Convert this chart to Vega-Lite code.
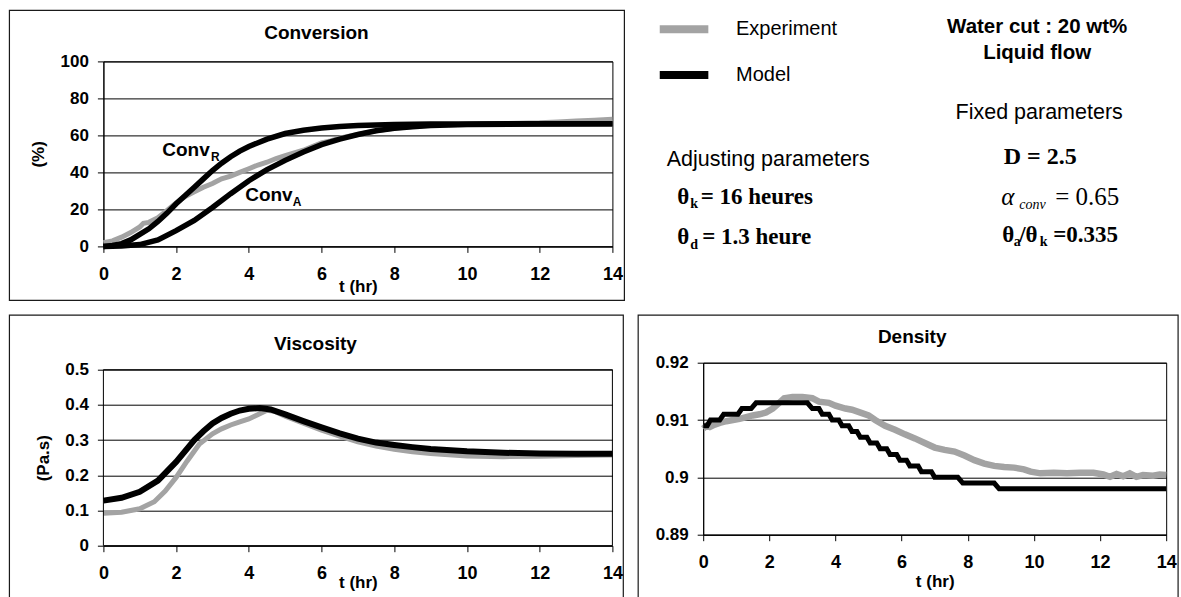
{
  "$schema": "https://vega.github.io/schema/vega-lite/v6.json",
  "background": "white",
  "autosize": {"type": "pad"},
  "padding": {"left": 7.4, "top": 8.4, "right": 0, "bottom": 0},
  "config": {
    "font": "Liberation Sans",
    "view": {"stroke": "#000000", "strokeWidth": 1},
    "axis": {"domainColor": "#000", "domainWidth": 1, "tickColor": "#000", "tickSize": 6, "tickWidth": 1, "gridColor": "#000", "gridOpacity": 1, "gridWidth": 1, "labelColor": "#000", "labelFont": "Liberation Sans", "labelFontWeight": "bold", "titleColor": "#000", "titleFont": "Liberation Sans", "titleFontWeight": "bold", "titleFontSize": 17, "labelOverlap": false},
    "axisX": {"grid": false, "labelFontSize": 18, "labelPadding": 13, "labelAngle": 0, "labelFlush": false, "labelOverlap": false},
    "axisY": {"grid": true, "labelFontSize": 17, "labelPadding": 9, "labelOverlap": false},
    "title": {"font": "Liberation Sans", "fontSize": 19, "fontWeight": "bold", "color": "#000", "anchor": "middle", "baseline": "bottom"}
  },
  "datasets": {
    "conv": [
      {"s": "Experiment", "c": "E", "t": 0, "v": 2}, {"s": "Experiment", "c": "E", "t": 0.25, "v": 3}, {"s": "Experiment", "c": "E", "t": 0.5, "v": 5}, {"s": "Experiment", "c": "E", "t": 0.75, "v": 7.5}, {"s": "Experiment", "c": "E", "t": 1, "v": 10.5}, {"s": "Experiment", "c": "E", "t": 1.1, "v": 12.5}, {"s": "Experiment", "c": "E", "t": 1.25, "v": 13}, {"s": "Experiment", "c": "E", "t": 1.5, "v": 15.5}, {"s": "Experiment", "c": "E", "t": 1.75, "v": 19.5}, {"s": "Experiment", "c": "E", "t": 2, "v": 23.5}, {"s": "Experiment", "c": "E", "t": 2.25, "v": 27}, {"s": "Experiment", "c": "E", "t": 2.5, "v": 29.5}, {"s": "Experiment", "c": "E", "t": 2.75, "v": 32}, {"s": "Experiment", "c": "E", "t": 3, "v": 34}, {"s": "Experiment", "c": "E", "t": 3.25, "v": 36.5}, {"s": "Experiment", "c": "E", "t": 3.5, "v": 38}, {"s": "Experiment", "c": "E", "t": 3.75, "v": 40}, {"s": "Experiment", "c": "E", "t": 4, "v": 42}, {"s": "Experiment", "c": "E", "t": 4.25, "v": 44}, {"s": "Experiment", "c": "E", "t": 4.5, "v": 45.5}, {"s": "Experiment", "c": "E", "t": 4.75, "v": 47.5}, {"s": "Experiment", "c": "E", "t": 5, "v": 49}, {"s": "Experiment", "c": "E", "t": 5.25, "v": 50.5}, {"s": "Experiment", "c": "E", "t": 5.5, "v": 52}, {"s": "Experiment", "c": "E", "t": 5.75, "v": 54}, {"s": "Experiment", "c": "E", "t": 6, "v": 56}, {"s": "Experiment", "c": "E", "t": 6.25, "v": 57}, {"s": "Experiment", "c": "E", "t": 6.5, "v": 58.5}, {"s": "Experiment", "c": "E", "t": 6.75, "v": 59.5}, {"s": "Experiment", "c": "E", "t": 7, "v": 60.5}, {"s": "Experiment", "c": "E", "t": 7.5, "v": 62.5}, {"s": "Experiment", "c": "E", "t": 8, "v": 63.8}, {"s": "Experiment", "c": "E", "t": 8.5, "v": 64.8}, {"s": "Experiment", "c": "E", "t": 9, "v": 65.5}, {"s": "Experiment", "c": "E", "t": 10, "v": 66}, {"s": "Experiment", "c": "E", "t": 11, "v": 66.3}, {"s": "Experiment", "c": "E", "t": 12, "v": 66.8}, {"s": "Experiment", "c": "E", "t": 12.5, "v": 67.3}, {"s": "Experiment", "c": "E", "t": 13, "v": 67.8}, {"s": "Experiment", "c": "E", "t": 13.5, "v": 68.2}, {"s": "Experiment", "c": "E", "t": 14, "v": 68.7},
      {"s": "Model", "c": "R", "t": 0, "v": 0}, {"s": "Model", "c": "R", "t": 0.25, "v": 0.5}, {"s": "Model", "c": "R", "t": 0.5, "v": 1.5}, {"s": "Model", "c": "R", "t": 0.75, "v": 3.5}, {"s": "Model", "c": "R", "t": 1, "v": 6.5}, {"s": "Model", "c": "R", "t": 1.25, "v": 9.5}, {"s": "Model", "c": "R", "t": 1.5, "v": 13.5}, {"s": "Model", "c": "R", "t": 1.75, "v": 18}, {"s": "Model", "c": "R", "t": 2, "v": 23}, {"s": "Model", "c": "R", "t": 2.25, "v": 27.5}, {"s": "Model", "c": "R", "t": 2.5, "v": 32}, {"s": "Model", "c": "R", "t": 2.75, "v": 36.5}, {"s": "Model", "c": "R", "t": 3, "v": 41}, {"s": "Model", "c": "R", "t": 3.25, "v": 45}, {"s": "Model", "c": "R", "t": 3.5, "v": 48.5}, {"s": "Model", "c": "R", "t": 3.75, "v": 51.5}, {"s": "Model", "c": "R", "t": 4, "v": 54}, {"s": "Model", "c": "R", "t": 4.5, "v": 58}, {"s": "Model", "c": "R", "t": 5, "v": 61}, {"s": "Model", "c": "R", "t": 5.5, "v": 62.8}, {"s": "Model", "c": "R", "t": 6, "v": 64}, {"s": "Model", "c": "R", "t": 6.5, "v": 64.8}, {"s": "Model", "c": "R", "t": 7, "v": 65.3}, {"s": "Model", "c": "R", "t": 8, "v": 65.9}, {"s": "Model", "c": "R", "t": 9, "v": 66.1}, {"s": "Model", "c": "R", "t": 10, "v": 66.2}, {"s": "Model", "c": "R", "t": 12, "v": 66.3}, {"s": "Model", "c": "R", "t": 14, "v": 66.3},
      {"s": "Model", "c": "A", "t": 0, "v": 0}, {"s": "Model", "c": "A", "t": 0.5, "v": 0.2}, {"s": "Model", "c": "A", "t": 1, "v": 1}, {"s": "Model", "c": "A", "t": 1.5, "v": 3.5}, {"s": "Model", "c": "A", "t": 2, "v": 8.5}, {"s": "Model", "c": "A", "t": 2.5, "v": 14}, {"s": "Model", "c": "A", "t": 3, "v": 21}, {"s": "Model", "c": "A", "t": 3.5, "v": 28.5}, {"s": "Model", "c": "A", "t": 4, "v": 35.5}, {"s": "Model", "c": "A", "t": 4.5, "v": 41.5}, {"s": "Model", "c": "A", "t": 5, "v": 46.5}, {"s": "Model", "c": "A", "t": 5.5, "v": 51}, {"s": "Model", "c": "A", "t": 6, "v": 55}, {"s": "Model", "c": "A", "t": 6.5, "v": 58}, {"s": "Model", "c": "A", "t": 7, "v": 60.5}, {"s": "Model", "c": "A", "t": 7.5, "v": 62.5}, {"s": "Model", "c": "A", "t": 8, "v": 63.8}, {"s": "Model", "c": "A", "t": 8.5, "v": 64.7}, {"s": "Model", "c": "A", "t": 9, "v": 65.3}, {"s": "Model", "c": "A", "t": 10, "v": 65.9}, {"s": "Model", "c": "A", "t": 12, "v": 66.2}, {"s": "Model", "c": "A", "t": 14, "v": 66.3}
    ],
    "visc": [
      {"s": "Experiment", "t": 0, "v": 0.092}, {"s": "Experiment", "t": 0.5, "v": 0.095}, {"s": "Experiment", "t": 1, "v": 0.105}, {"s": "Experiment", "t": 1.4, "v": 0.125}, {"s": "Experiment", "t": 1.7, "v": 0.155}, {"s": "Experiment", "t": 2, "v": 0.194}, {"s": "Experiment", "t": 2.3, "v": 0.24}, {"s": "Experiment", "t": 2.64, "v": 0.289}, {"s": "Experiment", "t": 3, "v": 0.318}, {"s": "Experiment", "t": 3.25, "v": 0.332}, {"s": "Experiment", "t": 3.5, "v": 0.343}, {"s": "Experiment", "t": 3.75, "v": 0.352}, {"s": "Experiment", "t": 4, "v": 0.36}, {"s": "Experiment", "t": 4.3, "v": 0.375}, {"s": "Experiment", "t": 4.5, "v": 0.385}, {"s": "Experiment", "t": 4.7, "v": 0.382}, {"s": "Experiment", "t": 5, "v": 0.368}, {"s": "Experiment", "t": 5.5, "v": 0.348}, {"s": "Experiment", "t": 6, "v": 0.328}, {"s": "Experiment", "t": 6.5, "v": 0.311}, {"s": "Experiment", "t": 7, "v": 0.295}, {"s": "Experiment", "t": 7.5, "v": 0.283}, {"s": "Experiment", "t": 8, "v": 0.274}, {"s": "Experiment", "t": 8.5, "v": 0.267}, {"s": "Experiment", "t": 9, "v": 0.262}, {"s": "Experiment", "t": 9.5, "v": 0.258}, {"s": "Experiment", "t": 10, "v": 0.255}, {"s": "Experiment", "t": 11, "v": 0.253}, {"s": "Experiment", "t": 12, "v": 0.254}, {"s": "Experiment", "t": 13, "v": 0.256}, {"s": "Experiment", "t": 14, "v": 0.258},
      {"s": "Model", "t": 0, "v": 0.128}, {"s": "Model", "t": 0.5, "v": 0.136}, {"s": "Model", "t": 1, "v": 0.153}, {"s": "Model", "t": 1.5, "v": 0.185}, {"s": "Model", "t": 2, "v": 0.238}, {"s": "Model", "t": 2.5, "v": 0.3}, {"s": "Model", "t": 2.75, "v": 0.325}, {"s": "Model", "t": 3, "v": 0.347}, {"s": "Model", "t": 3.25, "v": 0.363}, {"s": "Model", "t": 3.5, "v": 0.375}, {"s": "Model", "t": 3.75, "v": 0.384}, {"s": "Model", "t": 4, "v": 0.389}, {"s": "Model", "t": 4.3, "v": 0.391}, {"s": "Model", "t": 4.6, "v": 0.387}, {"s": "Model", "t": 5, "v": 0.373}, {"s": "Model", "t": 5.5, "v": 0.354}, {"s": "Model", "t": 6, "v": 0.336}, {"s": "Model", "t": 6.5, "v": 0.319}, {"s": "Model", "t": 7, "v": 0.304}, {"s": "Model", "t": 7.5, "v": 0.293}, {"s": "Model", "t": 8, "v": 0.286}, {"s": "Model", "t": 8.5, "v": 0.28}, {"s": "Model", "t": 9, "v": 0.275}, {"s": "Model", "t": 10, "v": 0.268}, {"s": "Model", "t": 11, "v": 0.264}, {"s": "Model", "t": 12, "v": 0.262}, {"s": "Model", "t": 13, "v": 0.261}, {"s": "Model", "t": 14, "v": 0.261}
    ],
    "dens": [
      {"s": "Experiment", "t": 0, "v": 0.9085}, {"s": "Experiment", "t": 0.1, "v": 0.909}, {"s": "Experiment", "t": 0.2, "v": 0.9088}, {"s": "Experiment", "t": 0.35, "v": 0.9092}, {"s": "Experiment", "t": 0.5, "v": 0.9095}, {"s": "Experiment", "t": 0.7, "v": 0.9098}, {"s": "Experiment", "t": 0.9, "v": 0.91}, {"s": "Experiment", "t": 1.1, "v": 0.9102}, {"s": "Experiment", "t": 1.3, "v": 0.9105}, {"s": "Experiment", "t": 1.5, "v": 0.9108}, {"s": "Experiment", "t": 1.7, "v": 0.911}, {"s": "Experiment", "t": 1.9, "v": 0.9113}, {"s": "Experiment", "t": 2.1, "v": 0.912}, {"s": "Experiment", "t": 2.3, "v": 0.913}, {"s": "Experiment", "t": 2.45, "v": 0.9138}, {"s": "Experiment", "t": 2.7, "v": 0.914}, {"s": "Experiment", "t": 3, "v": 0.914}, {"s": "Experiment", "t": 3.3, "v": 0.9138}, {"s": "Experiment", "t": 3.5, "v": 0.9132}, {"s": "Experiment", "t": 3.8, "v": 0.913}, {"s": "Experiment", "t": 4, "v": 0.9125}, {"s": "Experiment", "t": 4.3, "v": 0.912}, {"s": "Experiment", "t": 4.5, "v": 0.9118}, {"s": "Experiment", "t": 4.8, "v": 0.9112}, {"s": "Experiment", "t": 5, "v": 0.9108}, {"s": "Experiment", "t": 5.2, "v": 0.91}, {"s": "Experiment", "t": 5.5, "v": 0.909}, {"s": "Experiment", "t": 5.8, "v": 0.9083}, {"s": "Experiment", "t": 6.1, "v": 0.9075}, {"s": "Experiment", "t": 6.4, "v": 0.9068}, {"s": "Experiment", "t": 6.7, "v": 0.906}, {"s": "Experiment", "t": 7, "v": 0.9052}, {"s": "Experiment", "t": 7.3, "v": 0.9048}, {"s": "Experiment", "t": 7.6, "v": 0.9045}, {"s": "Experiment", "t": 7.9, "v": 0.9038}, {"s": "Experiment", "t": 8.2, "v": 0.903}, {"s": "Experiment", "t": 8.5, "v": 0.9024}, {"s": "Experiment", "t": 8.8, "v": 0.902}, {"s": "Experiment", "t": 9.1, "v": 0.9018}, {"s": "Experiment", "t": 9.4, "v": 0.9017}, {"s": "Experiment", "t": 9.7, "v": 0.9014}, {"s": "Experiment", "t": 9.9, "v": 0.901}, {"s": "Experiment", "t": 10.2, "v": 0.9007}, {"s": "Experiment", "t": 10.6, "v": 0.9008}, {"s": "Experiment", "t": 11, "v": 0.9007}, {"s": "Experiment", "t": 11.4, "v": 0.9008}, {"s": "Experiment", "t": 11.8, "v": 0.9008}, {"s": "Experiment", "t": 12.1, "v": 0.9005}, {"s": "Experiment", "t": 12.3, "v": 0.9001}, {"s": "Experiment", "t": 12.5, "v": 0.9006}, {"s": "Experiment", "t": 12.7, "v": 0.9002}, {"s": "Experiment", "t": 12.9, "v": 0.9007}, {"s": "Experiment", "t": 13.1, "v": 0.9001}, {"s": "Experiment", "t": 13.3, "v": 0.9004}, {"s": "Experiment", "t": 13.6, "v": 0.9003}, {"s": "Experiment", "t": 13.8, "v": 0.9005}, {"s": "Experiment", "t": 14, "v": 0.9004},
      {"s": "Model", "t": 0, "v": 0.909}, {"s": "Model", "t": 0.12, "v": 0.909}, {"s": "Model", "t": 0.22, "v": 0.91}, {"s": "Model", "t": 0.5, "v": 0.91}, {"s": "Model", "t": 0.62, "v": 0.911}, {"s": "Model", "t": 1.05, "v": 0.911}, {"s": "Model", "t": 1.17, "v": 0.912}, {"s": "Model", "t": 1.45, "v": 0.912}, {"s": "Model", "t": 1.6, "v": 0.913}, {"s": "Model", "t": 3.15, "v": 0.913}, {"s": "Model", "t": 3.3, "v": 0.912}, {"s": "Model", "t": 3.5, "v": 0.912}, {"s": "Model", "t": 3.6, "v": 0.911}, {"s": "Model", "t": 3.8, "v": 0.911}, {"s": "Model", "t": 3.9, "v": 0.91}, {"s": "Model", "t": 4.1, "v": 0.91}, {"s": "Model", "t": 4.2, "v": 0.909}, {"s": "Model", "t": 4.4, "v": 0.909}, {"s": "Model", "t": 4.5, "v": 0.908}, {"s": "Model", "t": 4.65, "v": 0.908}, {"s": "Model", "t": 4.75, "v": 0.907}, {"s": "Model", "t": 4.95, "v": 0.907}, {"s": "Model", "t": 5.05, "v": 0.906}, {"s": "Model", "t": 5.25, "v": 0.906}, {"s": "Model", "t": 5.35, "v": 0.905}, {"s": "Model", "t": 5.55, "v": 0.905}, {"s": "Model", "t": 5.65, "v": 0.904}, {"s": "Model", "t": 5.85, "v": 0.904}, {"s": "Model", "t": 5.95, "v": 0.903}, {"s": "Model", "t": 6.15, "v": 0.903}, {"s": "Model", "t": 6.25, "v": 0.902}, {"s": "Model", "t": 6.5, "v": 0.902}, {"s": "Model", "t": 6.6, "v": 0.901}, {"s": "Model", "t": 6.9, "v": 0.901}, {"s": "Model", "t": 7, "v": 0.9}, {"s": "Model", "t": 7.7, "v": 0.9}, {"s": "Model", "t": 7.85, "v": 0.899}, {"s": "Model", "t": 8.8, "v": 0.899}, {"s": "Model", "t": 8.95, "v": 0.898}, {"s": "Model", "t": 14, "v": 0.898}
    ]
  },
  "columns": 2,
  "align": "each",
  "spacing": {"row": 11.3, "column": 9.8},
  "concat": [
    {
      "width": 509,
      "height": 185,
      "title": {"text": "Conversion", "dx": -41.5, "offset": -33.4},
      "layer": [
        {
          "data": {"name": "conv"},
          "transform": [{"filter": "datum.s == 'Experiment'"}],
          "mark": {"type": "line", "strokeWidth": 5},
          "encoding": {
            "x": {"field": "t", "type": "quantitative", "scale": {"domain": [0, 14], "nice": false}, "axis": {"values": [0, 2, 4, 6, 8, 10, 12, 14], "format": "d", "title": "t (hr)", "titleX": 254.5, "titleY": 40.5, "titleBaseline": "middle", "titleAlign": "center"}},
            "y": {"field": "v", "type": "quantitative", "scale": {"domain": [0, 100], "nice": false}, "axis": {"values": [0, 20, 40, 60, 80, 100], "tickCount": 10, "format": "d", "labelOverlap": false, "title": "(%)", "titleX": -65, "titleY": 92.5, "titleAngle": 270, "titleBaseline": "middle", "titleAlign": "center"}},
            "color": {"field": "s", "type": "nominal", "scale": {"domain": ["Experiment", "Model"], "range": ["#a3a3a3", "#000000"]}, "legend": {"orient": "none", "legendX": 564.15, "legendY": -48.55, "title": null, "direction": "vertical", "symbolType": "M-2,0H2", "symbolSize": 590.5, "symbolStrokeWidth": 8, "labelFontSize": 20, "labelFont": "Liberation Sans", "labelFontWeight": "normal", "labelColor": "#000", "labelOffset": 35.5, "rowPadding": 12.7, "padding": 0}}
          }
        },
        {
          "data": {"name": "conv"},
          "transform": [{"filter": "datum.s == 'Model'"}],
          "mark": {"type": "line", "strokeWidth": 5.5},
          "encoding": {
            "x": {"field": "t", "type": "quantitative", "title": "t (hr)"},
            "y": {"field": "v", "type": "quantitative", "title": "(%)"},
            "color": {"field": "s", "type": "nominal"},
            "detail": {"field": "c"}
          }
        },
        {
          "data": {"values": [{}]},
          "mark": {"type": "rect", "filled": false, "stroke": "#1a1a1a", "strokeWidth": 1.2},
          "encoding": {"x": {"datum": -2.585, "type": "quantitative", "title": "t (hr)"}, "x2": {"datum": 14.33}, "y": {"datum": 127.6, "type": "quantitative", "title": "(%)"}, "y2": {"datum": -29.2}}
        },
        {
          "data": {"values": [{}]},
          "mark": {"type": "text", "text": "Conv", "font": "Liberation Sans", "fontWeight": "bold", "fontSize": 19, "align": "left", "baseline": "middle", "color": "#000"},
          "encoding": {"x": {"datum": 1.62, "type": "quantitative", "title": "t (hr)"}, "y": {"datum": 51.9, "type": "quantitative", "title": "(%)"}}
        },
        {
          "data": {"values": [{}]},
          "mark": {"type": "text", "text": "R", "font": "Liberation Sans", "fontWeight": "bold", "fontSize": 12, "align": "left", "baseline": "middle", "color": "#000"},
          "encoding": {"x": {"datum": 2.96, "type": "quantitative", "title": "t (hr)"}, "y": {"datum": 48.1, "type": "quantitative", "title": "(%)"}}
        },
        {
          "data": {"values": [{}]},
          "mark": {"type": "text", "text": "Conv", "font": "Liberation Sans", "fontWeight": "bold", "fontSize": 19, "align": "left", "baseline": "middle", "color": "#000"},
          "encoding": {"x": {"datum": 3.9, "type": "quantitative", "title": "t (hr)"}, "y": {"datum": 27.6, "type": "quantitative", "title": "(%)"}}
        },
        {
          "data": {"values": [{}]},
          "mark": {"type": "text", "text": "A", "font": "Liberation Sans", "fontWeight": "bold", "fontSize": 12, "align": "left", "baseline": "middle", "color": "#000"},
          "encoding": {"x": {"datum": 5.21, "type": "quantitative", "title": "t (hr)"}, "y": {"datum": 23.8, "type": "quantitative", "title": "(%)"}}
        }
      ]
    },
    {
      "width": 463,
      "height": 240,
      "view": {"stroke": null},
      "data": {"values": [{}]},
      "layer": [
        {"mark": {"type": "rect", "opacity": 0},
         "encoding": {"x": {"datum": -14.17, "type": "quantitative", "scale": {"domain": [0, 100], "nice": false, "zero": false}, "axis": null}, "x2": {"datum": 102.72}, "y": {"datum": 121.5, "type": "quantitative", "scale": {"domain": [0, 100], "nice": false, "zero": false}, "axis": null}, "y2": {"datum": 0.2}}},
        {"mark": {"type": "text", "text": "Water cut : 20 wt%", "font": "Liberation Sans", "fontWeight": "bold", "fontSize": 20.5, "align": "center", "baseline": "middle", "color": "#000"},
         "encoding": {"x": {"datum": 72.14, "type": "quantitative", "scale": {"domain": [0, 100], "nice": false, "zero": false}, "axis": null}, "y": {"datum": 114.17, "type": "quantitative", "scale": {"domain": [0, 100], "nice": false, "zero": false}, "axis": null}}},
        {"mark": {"type": "text", "text": "Liquid flow", "font": "Liberation Sans", "fontWeight": "bold", "fontSize": 20.5, "align": "center", "baseline": "middle", "color": "#000"},
         "encoding": {"x": {"datum": 72.14, "type": "quantitative", "scale": {"domain": [0, 100], "nice": false, "zero": false}, "axis": null}, "y": {"datum": 103.33, "type": "quantitative", "scale": {"domain": [0, 100], "nice": false, "zero": false}, "axis": null}}},
        {"mark": {"type": "text", "text": "Fixed parameters", "font": "Liberation Sans", "fontSize": 21.5, "align": "center", "baseline": "middle", "color": "#000"},
         "encoding": {"x": {"datum": 72.57, "type": "quantitative", "scale": {"domain": [0, 100], "nice": false, "zero": false}, "axis": null}, "y": {"datum": 78.33, "type": "quantitative", "scale": {"domain": [0, 100], "nice": false, "zero": false}, "axis": null}}},
        {"mark": {"type": "text", "text": "Adjusting parameters", "font": "Liberation Sans", "fontSize": 21.5, "align": "left", "baseline": "middle", "color": "#000"},
         "encoding": {"x": {"datum": -7.88, "type": "quantitative", "scale": {"domain": [0, 100], "nice": false, "zero": false}, "axis": null}, "y": {"datum": 58.75, "type": "quantitative", "scale": {"domain": [0, 100], "nice": false, "zero": false}, "axis": null}}},
        {"mark": {"type": "text", "text": "θ", "font": "Liberation Serif", "fontWeight": "bold", "fontSize": 23, "align": "left", "baseline": "middle", "color": "#000"},
         "encoding": {"x": {"datum": -5.62, "type": "quantitative", "scale": {"domain": [0, 100], "nice": false, "zero": false}, "axis": null}, "y": {"datum": 43.33, "type": "quantitative", "scale": {"domain": [0, 100], "nice": false, "zero": false}, "axis": null}}},
        {"mark": {"type": "text", "text": "k", "font": "Liberation Serif", "fontWeight": "bold", "fontSize": 14, "align": "left", "baseline": "middle", "color": "#000"},
         "encoding": {"x": {"datum": -2.81, "type": "quantitative", "scale": {"domain": [0, 100], "nice": false, "zero": false}, "axis": null}, "y": {"datum": 40.42, "type": "quantitative", "scale": {"domain": [0, 100], "nice": false, "zero": false}, "axis": null}}},
        {"mark": {"type": "text", "text": "= 16 heures", "font": "Liberation Serif", "fontWeight": "bold", "fontSize": 23, "align": "left", "baseline": "middle", "color": "#000"},
         "encoding": {"x": {"datum": -0.54, "type": "quantitative", "scale": {"domain": [0, 100], "nice": false, "zero": false}, "axis": null}, "y": {"datum": 43.33, "type": "quantitative", "scale": {"domain": [0, 100], "nice": false, "zero": false}, "axis": null}}},
        {"mark": {"type": "text", "text": "θ", "font": "Liberation Serif", "fontWeight": "bold", "fontSize": 23, "align": "left", "baseline": "middle", "color": "#000"},
         "encoding": {"x": {"datum": -5.62, "type": "quantitative", "scale": {"domain": [0, 100], "nice": false, "zero": false}, "axis": null}, "y": {"datum": 26.67, "type": "quantitative", "scale": {"domain": [0, 100], "nice": false, "zero": false}, "axis": null}}},
        {"mark": {"type": "text", "text": "d", "font": "Liberation Serif", "fontWeight": "bold", "fontSize": 14, "align": "left", "baseline": "middle", "color": "#000"},
         "encoding": {"x": {"datum": -2.81, "type": "quantitative", "scale": {"domain": [0, 100], "nice": false, "zero": false}, "axis": null}, "y": {"datum": 23.33, "type": "quantitative", "scale": {"domain": [0, 100], "nice": false, "zero": false}, "axis": null}}},
        {"mark": {"type": "text", "text": "= 1.3 heure", "font": "Liberation Serif", "fontWeight": "bold", "fontSize": 23, "align": "left", "baseline": "middle", "color": "#000"},
         "encoding": {"x": {"datum": -0.22, "type": "quantitative", "scale": {"domain": [0, 100], "nice": false, "zero": false}, "axis": null}, "y": {"datum": 26.67, "type": "quantitative", "scale": {"domain": [0, 100], "nice": false, "zero": false}, "axis": null}}},
        {"mark": {"type": "text", "text": "D = 2.5", "font": "Liberation Serif", "fontWeight": "bold", "fontSize": 24, "align": "center", "baseline": "middle", "color": "#000"},
         "encoding": {"x": {"datum": 72.79, "type": "quantitative", "scale": {"domain": [0, 100], "nice": false, "zero": false}, "axis": null}, "y": {"datum": 60, "type": "quantitative", "scale": {"domain": [0, 100], "nice": false, "zero": false}, "axis": null}}},
        {"mark": {"type": "text", "text": "α", "font": "Liberation Serif", "fontStyle": "italic", "fontSize": 25, "align": "left", "baseline": "middle", "color": "#000"},
         "encoding": {"x": {"datum": 64.36, "type": "quantitative", "scale": {"domain": [0, 100], "nice": false, "zero": false}, "axis": null}, "y": {"datum": 43.33, "type": "quantitative", "scale": {"domain": [0, 100], "nice": false, "zero": false}, "axis": null}}},
        {"mark": {"type": "text", "text": "conv", "font": "Liberation Serif", "fontStyle": "italic", "fontSize": 14, "align": "left", "baseline": "middle", "color": "#000"},
         "encoding": {"x": {"datum": 68.25, "type": "quantitative", "scale": {"domain": [0, 100], "nice": false, "zero": false}, "axis": null}, "y": {"datum": 40, "type": "quantitative", "scale": {"domain": [0, 100], "nice": false, "zero": false}, "axis": null}}},
        {"mark": {"type": "text", "text": "= 0.65", "font": "Liberation Serif", "fontSize": 25, "align": "left", "baseline": "middle", "color": "#000"},
         "encoding": {"x": {"datum": 76.03, "type": "quantitative", "scale": {"domain": [0, 100], "nice": false, "zero": false}, "axis": null}, "y": {"datum": 43.33, "type": "quantitative", "scale": {"domain": [0, 100], "nice": false, "zero": false}, "axis": null}}},
        {"mark": {"type": "text", "text": "θ", "font": "Liberation Serif", "fontWeight": "bold", "fontSize": 23, "align": "left", "baseline": "middle", "color": "#000"},
         "encoding": {"x": {"datum": 64.58, "type": "quantitative", "scale": {"domain": [0, 100], "nice": false, "zero": false}, "axis": null}, "y": {"datum": 27.5, "type": "quantitative", "scale": {"domain": [0, 100], "nice": false, "zero": false}, "axis": null}}},
        {"mark": {"type": "text", "text": "a", "font": "Liberation Serif", "fontWeight": "bold", "fontSize": 14, "align": "left", "baseline": "middle", "color": "#000"},
         "encoding": {"x": {"datum": 67.08, "type": "quantitative", "scale": {"domain": [0, 100], "nice": false, "zero": false}, "axis": null}, "y": {"datum": 24.58, "type": "quantitative", "scale": {"domain": [0, 100], "nice": false, "zero": false}, "axis": null}}},
        {"mark": {"type": "text", "text": "/θ", "font": "Liberation Serif", "fontWeight": "bold", "fontSize": 23, "align": "left", "baseline": "middle", "color": "#000"},
         "encoding": {"x": {"datum": 68.25, "type": "quantitative", "scale": {"domain": [0, 100], "nice": false, "zero": false}, "axis": null}, "y": {"datum": 27.5, "type": "quantitative", "scale": {"domain": [0, 100], "nice": false, "zero": false}, "axis": null}}},
        {"mark": {"type": "text", "text": "k", "font": "Liberation Serif", "fontWeight": "bold", "fontSize": 14, "align": "left", "baseline": "middle", "color": "#000"},
         "encoding": {"x": {"datum": 72.7, "type": "quantitative", "scale": {"domain": [0, 100], "nice": false, "zero": false}, "axis": null}, "y": {"datum": 24.58, "type": "quantitative", "scale": {"domain": [0, 100], "nice": false, "zero": false}, "axis": null}}},
        {"mark": {"type": "text", "text": "=0.335", "font": "Liberation Serif", "fontWeight": "bold", "fontSize": 23, "align": "left", "baseline": "middle", "color": "#000"},
         "encoding": {"x": {"datum": 75.59, "type": "quantitative", "scale": {"domain": [0, 100], "nice": false, "zero": false}, "axis": null}, "y": {"datum": 27.5, "type": "quantitative", "scale": {"domain": [0, 100], "nice": false, "zero": false}, "axis": null}}}
      ]
    },
    {
      "width": 509,
      "height": 183,
      "view": {"stroke": null},
      "title": {"text": "Viscosity", "dx": -42.5, "offset": -38.9},
      "layer": [
        {
          "data": {"name": "visc"},
          "transform": [{"filter": "datum.s == 'Experiment'"}],
          "mark": {"type": "line", "strokeWidth": 5},
          "encoding": {
            "x": {"field": "t", "type": "quantitative", "scale": {"domain": [0, 14], "nice": false}, "axis": {"values": [0, 2, 4, 6, 8, 10, 12, 14], "format": "d", "title": "t (hr)", "titleX": 254.5, "titleY": 37, "titleBaseline": "middle", "titleAlign": "center"}},
            "y": {"field": "v", "type": "quantitative", "scale": {"domain": [0, 0.5199], "nice": false}, "axis": {"values": [0, 0.1, 0.2, 0.3, 0.4, 0.5], "tickCount": 10, "domain": false, "labelOverlap": false, "labelExpr": "format(datum.value, '.1~f')", "title": "(Pa.s)", "titleX": -60, "titleY": 95, "titleAngle": 270, "titleBaseline": "middle", "titleAlign": "center"}},
            "color": {"field": "s", "type": "nominal", "scale": {"domain": ["Experiment", "Model"], "range": ["#a3a3a3", "#000000"]}, "legend": {"orient": "none", "legendX": 564.15, "legendY": -48.55, "title": null, "direction": "vertical", "symbolType": "M-2,0H2", "symbolSize": 590.5, "symbolStrokeWidth": 8, "labelFontSize": 20, "labelFont": "Liberation Sans", "labelFontWeight": "normal", "labelColor": "#000", "labelOffset": 35.5, "rowPadding": 12.7, "padding": 0}}
          }
        },
        {
          "data": {"name": "visc"},
          "transform": [{"filter": "datum.s == 'Model'"}],
          "mark": {"type": "line", "strokeWidth": 6},
          "encoding": {
            "x": {"field": "t", "type": "quantitative", "title": "t (hr)"},
            "y": {"field": "v", "type": "quantitative", "title": "(Pa.s)"},
            "color": {"field": "s", "type": "nominal"}
          }
        },
        {
          "data": {"values": [{}]},
          "mark": {"type": "rect", "filled": false, "stroke": "#000000", "strokeWidth": 1},
          "encoding": {"x": {"datum": 0, "type": "quantitative", "title": "t (hr)"}, "x2": {"datum": 14}, "y": {"datum": 0.5, "type": "quantitative", "title": "(Pa.s)"}, "y2": {"datum": 0}}
        },
        {
          "data": {"values": [{}]},
          "mark": {"type": "rect", "filled": false, "stroke": "#1a1a1a", "strokeWidth": 1.2},
          "encoding": {"x": {"datum": -2.585, "type": "quantitative", "title": "t (hr)"}, "x2": {"datum": 14.3}, "y": {"datum": 0.6548, "type": "quantitative", "title": "(Pa.s)"}, "y2": {"datum": -0.156}}
        }
      ]
    },
    {
      "width": 463,
      "height": 172,
      "title": {"text": "Density", "dx": -22.5, "offset": -32.4},
      "layer": [
        {
          "data": {"name": "dens"},
          "transform": [{"filter": "datum.s == 'Experiment'"}],
          "mark": {"type": "line", "strokeWidth": 6.5},
          "encoding": {
            "x": {"field": "t", "type": "quantitative", "scale": {"domain": [0, 14], "nice": false}, "axis": {"values": [0, 2, 4, 6, 8, 10, 12, 14], "format": "d", "title": "t (hr)", "titleX": 231.5, "titleY": 47, "titleBaseline": "middle", "titleAlign": "center"}},
            "y": {"field": "v", "type": "quantitative", "scale": {"domain": [0.89, 0.92], "nice": false, "zero": false}, "axis": {"values": [0.89, 0.9, 0.91, 0.92], "tickCount": 10, "labelOverlap": false, "labelExpr": "format(datum.value, '.2~f')", "title": null}},
            "color": {"field": "s", "type": "nominal", "scale": {"domain": ["Experiment", "Model"], "range": ["#a3a3a3", "#000000"]}, "legend": {"orient": "none", "legendX": 564.15, "legendY": -48.55, "title": null, "direction": "vertical", "symbolType": "M-2,0H2", "symbolSize": 590.5, "symbolStrokeWidth": 8, "labelFontSize": 20, "labelFont": "Liberation Sans", "labelFontWeight": "normal", "labelColor": "#000", "labelOffset": 35.5, "rowPadding": 12.7, "padding": 0}}
          }
        },
        {
          "data": {"name": "dens"},
          "transform": [{"filter": "datum.s == 'Model'"}],
          "mark": {"type": "line", "strokeWidth": 5},
          "encoding": {
            "x": {"field": "t", "type": "quantitative", "title": "t (hr)"},
            "y": {"field": "v", "type": "quantitative", "title": null},
            "color": {"field": "s", "type": "nominal"}
          }
        },
        {
          "data": {"values": [{}]},
          "mark": {"type": "rect", "filled": false, "stroke": "#1a1a1a", "strokeWidth": 1.2},
          "encoding": {"x": {"datum": -1.966, "type": "quantitative", "title": "t (hr)"}, "x2": {"datum": 14.36}, "y": {"datum": 0.92829, "type": "quantitative", "title": null}, "y2": {"datum": 0.87849}}
        }
      ]
    }
  ]
}
